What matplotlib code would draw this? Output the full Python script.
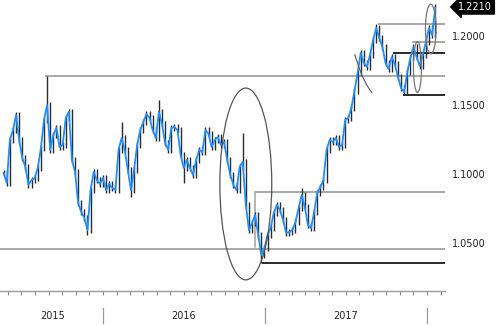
import matplotlib
matplotlib.use("Agg")
import matplotlib.pyplot as plt
import matplotlib.dates as mdates
import matplotlib.transforms as mtrans
from matplotlib.patches import Ellipse
import pandas as pd
import numpy as np

# weekly closes (EUR/USD style)
close = [
    1.1014, 1.0942, 1.1254, 1.1326, 1.1435, 1.1254, 1.1123, 1.1058, 1.0928, 1.0964,
    1.0978, 1.1051, 1.1196, 1.1399, 1.1507, 1.1181, 1.1290, 1.1341, 1.1203, 1.1217,
    1.1413, 1.1457, 1.1109, 1.1022, 1.0797, 1.0732, 1.0688, 1.0601, 1.0891, 1.1022,
    1.0964, 1.0935, 1.0978, 1.0891, 1.0935, 1.0906, 1.0891, 1.1181, 1.1268, 1.1181,
    1.1036, 1.0891, 1.1036, 1.1217, 1.1326, 1.1384, 1.1442, 1.1413, 1.1326, 1.1268,
    1.1457, 1.1370, 1.1232, 1.1181, 1.1341, 1.1348, 1.1326, 1.1145, 1.1051, 1.1109,
    1.1051, 1.1000, 1.1109, 1.1181, 1.1167, 1.1326, 1.1297, 1.1203, 1.1254, 1.1275,
    1.1217, 1.1239, 1.1109, 1.1000, 1.0928, 1.0891, 1.1058, 1.1094, 1.0783, 1.0601,
    1.0652, 1.0710, 1.0565, 1.0420, 1.0471, 1.0565, 1.0616, 1.0725, 1.0783, 1.0746,
    1.0674, 1.0580, 1.0587, 1.0601, 1.0659, 1.0761, 1.0855, 1.0768, 1.0638, 1.0616,
    1.0732, 1.0870, 1.0913, 1.0964, 1.1181, 1.1254, 1.1239, 1.1268, 1.1203, 1.1217,
    1.1399, 1.1413, 1.1486, 1.1609, 1.1739, 1.1884, 1.1812, 1.1783, 1.1870, 1.1978,
    1.2065, 1.1993, 1.1928, 1.1812, 1.1768, 1.1855, 1.1804, 1.1710, 1.1630, 1.1601,
    1.1746, 1.1848, 1.1928, 1.1855, 1.1790, 1.1870, 1.1964, 1.2065, 1.2014, 1.2210,
]
start_date = "2015-05-22"
# notable extremes: week index -> high / low
spike_high = {14: 1.1714, 38: 1.1384, 50: 1.1543, 77: 1.1304, 96: 1.0906,
              115: 1.1906, 120: 1.2094, 139: 1.2240}
spike_low = {27: 1.0565, 41: 1.0841, 58: 1.0942, 83: 1.0362, 129: 1.1580}

# horizontal levels: (price, start date, colour)
level_price = [1.1717, 1.2094, 1.1964, 1.1884, 1.1580, 1.0877, 1.0464, 1.0362]
level_start = ["2015-08-23", "2017-09-12", "2017-11-27", "2017-10-16",
               "2017-11-07", "2016-12-08", "2015-05-01", "2016-12-24"]
level_dark = [False, False, False, True, True, False, False, True]

axis_labels = [1.2000, 1.1500, 1.1000, 1.0500]
last_label = "1.2210"
last_price = 1.2210
years = ["2015", "2016", "2017"]
year_centers = ["2015-09-10", "2016-07-01", "2017-07-01"]
year_bounds = ["2016-01-01", "2017-01-01", "2018-01-01"]

dates = pd.date_range(start_date, periods=len(close), freq="W-FRI")
dn = mdates.date2num(dates.to_pydatetime())
c = np.array(close)
o = np.concatenate([[c[0]], c[:-1]])
pad = 0.0022
hi = np.maximum(o, c) + pad
lo = np.minimum(o, c) - pad
for k, v in spike_high.items():
    hi[k] = max(hi[k], v)
for k, v in spike_low.items():
    lo[k] = min(lo[k], v)

fig = plt.figure(figsize=(5.0, 3.26), dpi=100)
ax = fig.add_axes([0.0, 35 / 326, 445 / 500, 291 / 326])
anchor = mdates.date2num(pd.Timestamp("2016-01-01").to_pydatetime())
ppy = 162.0
ax.set_xlim(anchor - 103 / ppy * 365.25, anchor + 342 / ppy * 365.25)
ax.set_ylim(1.2 - 254 / 1380, 1.2 + 37 / 1380)
xr = ax.get_xlim()[1]


def d(s):
    return mdates.date2num(pd.Timestamp(s).to_pydatetime())


# levels
for p, s, dk in zip(level_price, level_start, level_dark):
    ax.plot([d(s), xr], [p, p], color="#2a2a2a" if dk else "#a8a8a8",
            lw=1.4, solid_capstyle="butt", zorder=1)
# vertical drop of the Dec 2016 bracket
xb = d("2016-12-08")
ax.plot([xb, xb], [1.0877, 1.0478], color="#a8a8a8", lw=1.2, zorder=1)

# candles
ax.vlines(dn, lo, hi, color="#2b2b2b", lw=1.0, zorder=2)
ax.plot(dn, c, color="#1e8fff", lw=1.3, zorder=3)

# ellipses / arcs
ax.add_patch(Ellipse((d("2016-11-18"), 1.0935), 117, 0.139, fill=False,
                     ec="#555555", lw=0.9, zorder=4))
ax.add_patch(Ellipse((d("2017-12-10"), 1.1783), 18, 0.037, fill=False,
                     ec="#777777", lw=0.9, zorder=4))
ax.add_patch(Ellipse((d("2018-01-09"), 1.2058), 24, 0.036, fill=False,
                     ec="#777777", lw=0.9, zorder=4))
arc_d = ["2017-07-22", "2017-07-29", "2017-08-07", "2017-08-18", "2017-08-29"]
arc_p = [1.1870, 1.1800, 1.1720, 1.1650, 1.1597]
ax.plot([d(s) for s in arc_d], arc_p, color="#666666", lw=0.9, zorder=4)

# axes styling
for sp in ["top", "right", "left"]:
    ax.spines[sp].set_visible(False)
ax.spines["bottom"].set_color("#9a9a9a")
ax.spines["bottom"].set_linewidth(1.0)
ax.xaxis.set_major_locator(mdates.MonthLocator())
ax.xaxis.set_major_formatter(plt.NullFormatter())
ax.tick_params(axis="x", direction="out", length=3, width=0.8, color="#8a8a8a")
ax.set_yticks([])
ax.patch.set_alpha(0)

tb = mtrans.blended_transform_factory(ax.transData, ax.transAxes)
for b in year_bounds:
    ax.plot([d(b), d(b)], [-0.058, -0.110], transform=tb, color="#9a9a9a",
            lw=0.9, clip_on=False)
for y, xc in zip(years, year_centers):
    ax.text(d(xc), -0.086, y, transform=tb, ha="center", va="center",
            fontsize=7, family="DejaVu Sans", color="#222222")

tr = mtrans.blended_transform_factory(ax.transAxes, ax.transData)
for v in axis_labels:
    ax.text(1.016, v, f"{v:.4f}", transform=tr, ha="left", va="center",
            fontsize=7, family="DejaVu Sans", color="#222222", clip_on=False)
ax.text(1.03, last_price + 0.0008, last_label, transform=tr, ha="left", va="center",
        fontsize=7, family="DejaVu Sans", color="white", clip_on=False,
        bbox=dict(boxstyle="larrow,pad=0.22", fc="black", ec="black"))

fig.savefig("out.png", dpi=100)
